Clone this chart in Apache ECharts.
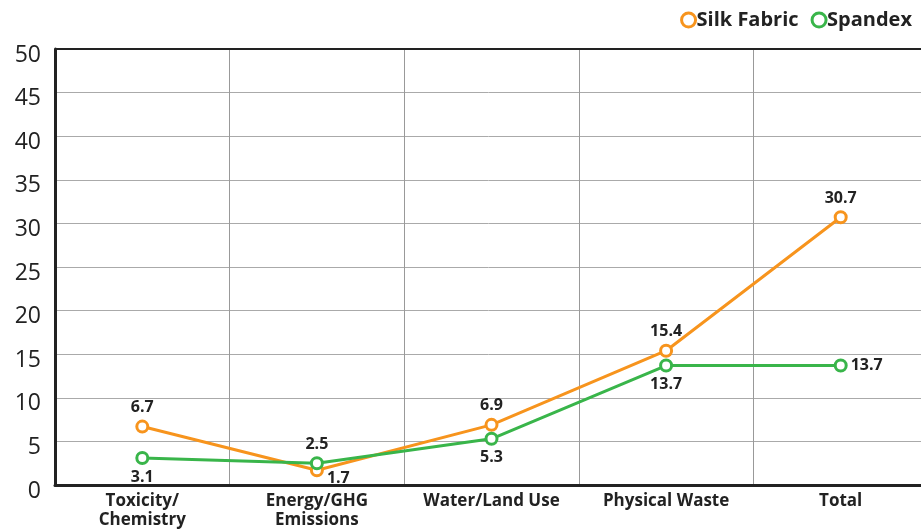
<!DOCTYPE html>
<html><head><meta charset="utf-8">
<script src="https://cdn.jsdelivr.net/npm/echarts@6/dist/echarts.min.js"></script>
<style>html,body{margin:0;padding:0;background:#fff;}#c{width:921px;height:529px;}</style>
</head><body><div id="c"></div>
<script>
const categories = ['Toxicity/\nChemistry', 'Energy/GHG\nEmissions', 'Water/Land Use', 'Physical Waste', 'Total'];
const silk = [6.7, 1.7, 6.9, 15.4, 30.7];
const spandex = [3.1, 2.5, 5.3, 13.7, 13.7];
const silkPos = ['top', 'right', 'top', 'top', 'top'];
const spandexPos = ['bottom', 'top', 'bottom', 'bottom', 'right'];
const yTicks = [0, 5, 10, 15, 20, 25, 30, 35, 40, 45, 50];

const chart = echarts.init(document.getElementById('c'));
const FONT = 'Open Sans';
const lbl = {fontFamily: FONT, fontWeight: 'bold', fontSize: 16, color: '#222'};
function mk(vals, pos) {
  return vals.map((v, i) => ({value: v, label: Object.assign({position: pos[i], distance: pos[i]==='right'?3:4}, pos[i]==='right' && i===1 ? {offset:[0,8]} : {})}));
}
chart.setOption({
  animation: false,
  legend: {
    right: 4, top: 5, itemGap: 12, itemWidth: 14, itemHeight: 14,
    icon: 'circle',
    textStyle: {fontFamily: FONT, fontWeight: 'bold', fontSize: 20, color: '#222', padding: [0, 0, 0, -4]},
    data: [
      {name: 'Silk Fabric', itemStyle: {color: '#fff', borderColor: '#F7941D', borderWidth: 3}},
      {name: 'Spandex', itemStyle: {color: '#fff', borderColor: '#39B54A', borderWidth: 3}}
    ]
  },
  grid: {left: 55, width: 873, top: 49, height: 436, containLabel: false, outerBoundsMode: 'none'},
  xAxis: {
    type: 'category', data: categories, boundaryGap: true,
    axisLine: {lineStyle: {color: '#222', width: 3}},
    axisTick: {show: false},
    axisLabel: {fontFamily: FONT, fontWeight: 'bold', fontSize: 17, color: '#222', lineHeight: 19, margin: 7, interval: 0},
    splitLine: {show: true, lineStyle: {color: '#999', width: 1}}
  },
  yAxis: {
    type: 'value', min: 0, max: 50, interval: 5,
    axisLine: {show: true, lineStyle: {color: '#222', width: 3}},
    axisTick: {show: false},
    axisLabel: {fontFamily: FONT, fontSize: 23, color: '#222', margin: 14,
      formatter: v => yTicks.includes(v) ? '{v|' + v + '}' : '',
      rich: {v: {fontFamily: FONT, fontSize: 23, color: '#222', padding: [12, 0, 0, 0]}}},
    splitLine: {lineStyle: {color: '#aaa', width: 1}}
  },
  series: [
    {name: 'Silk Fabric', type: 'line', data: mk(silk, silkPos), symbol: 'circle', symbolSize: 11,
      lineStyle: {color: '#F7941D', width: 3},
      itemStyle: {color: '#fff', borderColor: '#F7941D', borderWidth: 3},
      label: Object.assign({show: true}, lbl), z: 3},
    {name: 'Spandex', type: 'line', data: mk(spandex, spandexPos), symbol: 'circle', symbolSize: 11,
      lineStyle: {color: '#39B54A', width: 3},
      itemStyle: {color: '#fff', borderColor: '#39B54A', borderWidth: 3},
      label: Object.assign({show: true}, lbl), z: 4}
  ],
  graphic: [{type: 'line', shape: {x1: 55, y1: 49, x2: 921, y2: 49}, style: {stroke: '#222', lineWidth: 2}, z: 10}]
});
</script></body></html>
